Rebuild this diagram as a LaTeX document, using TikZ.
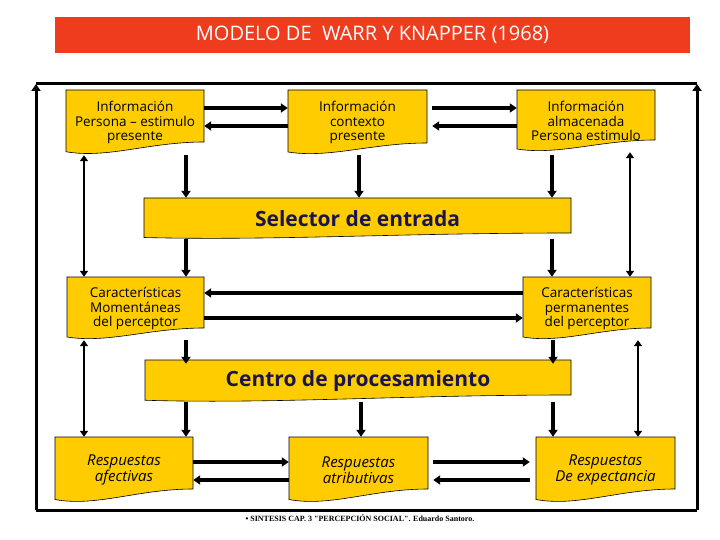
\documentclass[tikz,border=0pt]{standalone}
\usepackage{fontspec}
\setmainfont{Open Sans}
\newfontfamily\footfont{Liberation Serif}
\usetikzlibrary{arrows.meta}
\definecolor{gold}{HTML}{FFCC00}
\definecolor{titred}{HTML}{F03C1E}
\definecolor{navy}{HTML}{1A1450}
\newcommand\docnode[8]{%
 \pgfmathsetmacro\ya{#5-#6}\pgfmathsetmacro\yb{#5-0.25*#6}%
 \pgfmathsetmacro\xa{#4-0.4*(#4-#2)}\pgfmathsetmacro\xb{#2+0.3*(#4-#2)}%
 \draw[docshape] (#2,#3)--(#4,#3)--(#4,\ya) .. controls (\xa,\ya) and (\xb,#5+0.3*#6) .. (#2,\yb)--cycle;
 \node[doctext,minimum width={(#4-#2)*1pt},minimum height={(#5-#3)*1pt},#8] (#1) at ({(#2+#4)/2},{(#3+#5)/2}) {#7};}
\begin{document}
\begin{tikzpicture}[x=1pt,y=-1pt,
 docshape/.style={fill=gold,draw=black,line width=0.6pt},
 doctext/.style={inner sep=0pt,align=center,font=\fontsize{13.5}{14.5}\selectfont},
 big/.style={font=\fontsize{21}{22}\selectfont\bfseries,text=navy},
 resp/.style={font=\fontsize{15}{16}\selectfont\itshape},
 arr/.style={line width=3.6pt,-{Triangle[length=7pt,width=9pt]}},
 barr/.style={line width=2.8pt,{Triangle[length=6pt,width=8pt]}-{Triangle[length=6pt,width=8pt]}},
 frame/.style={line width=3pt}]
\useasboundingbox (0,0) rectangle (720,540);
\node[fill=titred,text=white,minimum width=635pt,minimum height=36pt,inner sep=0pt,font=\fontsize{20}{21}\selectfont] (title) at (372.5,35) {MODELO DE\ \ WARR Y KNAPPER (1968)};
% frame
\coordinate (tl) at (36,84); \coordinate (tr) at (697,84);
\coordinate (bl) at (36,510); \coordinate (br) at (697,510);
\draw[frame] (tl)--(tr); \draw[frame] (bl)--(br);
\draw[frame,-{Triangle[length=7pt,width=9pt]}] (bl)--(tl);
\draw[frame,-{Triangle[length=7pt,width=9pt]}] (br)--(tr);
% boxes
\docnode{A}{66}{90}{204}{155}{13}{Información\\Persona -- estimulo\\presente}{}
\docnode{B}{288}{90}{427}{155}{12}{Información\\contexto\\presente}{}
\docnode{C}{517}{90}{655}{152}{12}{Información\\almacenada\\Persona estimulo}{}
\docnode{S}{144}{198}{571}{239}{6}{Selector de entrada}{big}
\docnode{D}{67}{277}{204}{340}{12}{Características\\Momentáneas\\del perceptor}{}
\docnode{E}{523}{277}{651}{340}{12}{Características\\permanentes\\del perceptor}{}
\docnode{P}{145}{360}{571}{402}{7}{Centro de procesamiento}{big}
\docnode{F}{55}{437}{193}{503}{14}{Respuestas\\afectivas}{resp}
\docnode{G}{289}{437}{428}{503}{14}{Respuestas\\atributivas}{resp}
\docnode{H}{536}{437}{675}{503}{14}{Respuestas\\De expectancia}{resp}
% horizontal pairs
\draw[arr] (A.east |- 0,108) -- (B.west |- 0,108);
\draw[arr] (B.west |- 0,126) -- (A.east |- 0,126);
\draw[arr] (B.east |- 0,108) ++(5,0) -- (C.west |- 0,108);
\draw[arr] (C.west |- 0,126) -- ([xshift=5pt]B.east |- 0,126);
\draw[arr] (E.west |- 0,293) -- (D.east |- 0,293);
\draw[arr] (D.east |- 0,318) -- (E.west |- 0,318);
\draw[arr] (F.east |- 0,462) -- (G.west |- 0,462);
\draw[arr] (G.west |- 0,480) -- (F.east |- 0,480);
\draw[arr] ([xshift=5pt]G.east |- 0,462) -- ([xshift=-6pt]H.west |- 0,462);
\draw[arr] ([xshift=-6pt]H.west |- 0,480) -- ([xshift=5pt]G.east |- 0,480);
% verticals
\draw[arr] (A.south -| 186,0) -- (S.north -| 186,0);
\draw[arr] (B.south -| 359,0) -- (S.north -| 359,0);
\draw[arr] ([yshift=-3pt]C.south -| 552,0) -- (S.north -| 552,0);
\draw[arr] (S.south -| 186,0) -- (D.north -| 186,0);
\draw[arr] (S.south -| 552,0) -- (E.north -| 552,0);
\draw[arr] (D.south -| 186,0) -- ([yshift=-4pt]P.north -| 186,0);
\draw[arr] (E.south -| 553,0) -- ([yshift=-4pt]P.north -| 553,0);
\draw[arr] (P.south -| 186,0) -- (F.north -| 186,0);
\draw[arr] (P.south -| 361,0) -- (G.north -| 361,0);
\draw[arr] (P.south -| 553,0) -- (H.north -| 553,0);
\draw[barr] (A.south -| 84,0) -- (D.north -| 84,0);
\draw[barr] (C.south -| 630,0) -- (E.north -| 630,0);
\draw[barr] (D.south -| 84,0) -- (F.north -| 84,0);
\draw[barr] (E.south -| 638,0) -- (H.north -| 638,0);
\node[font=\footfont\bfseries\fontsize{8}{9}\selectfont,inner sep=0pt] (foot) at (360,518) {• SINTESIS CAP. 3 "PERCEPCIÓN SOCIAL". Eduardo Santoro.};
\end{tikzpicture}
\end{document}
